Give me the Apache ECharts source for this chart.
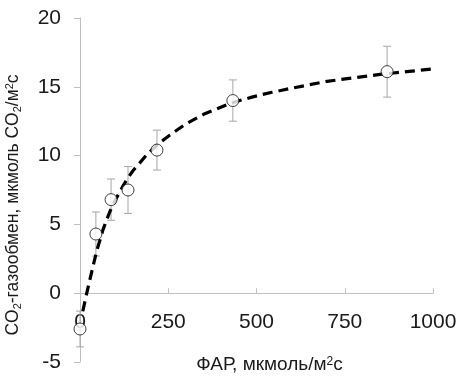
<!DOCTYPE html>
<html>
<head>
<meta charset="utf-8">
<script src="https://cdn.jsdelivr.net/npm/echarts@6/dist/echarts.min.js"></script>
<style>
  html, body { margin: 0; padding: 0; background: #fff; }
  #chart { width: 459px; height: 376px; }
</style>
</head>
<body>
<div id="chart"></div>
<script>
// Measured CO2 exchange vs. PAR (means ± error)
const par = [0, 45, 88, 136, 218, 433, 870];
const rate = [-2.6, 4.3, 6.8, 7.5, 10.4, 14.0, 16.1];
const err = [1.3, 1.6, 1.5, 1.7, 1.45, 1.5, 1.85];

// Light-response curve
const curvePar = [8, 14, 20, 25, 30, 35, 40, 45, 50, 57, 65, 75, 85, 93, 105, 122, 135, 150, 167, 187,
  203, 220, 237, 255, 277, 300, 325, 350, 383, 416, 450, 487, 515, 544, 572, 600, 650, 700, 775, 850, 925, 1000];
const curveRate = [-1.3, -0.6, 0.1, 0.65, 1.2, 1.75, 2.3, 2.8, 3.3, 3.9, 4.6, 5.3, 5.95, 6.4, 7.0, 7.8, 8.35, 8.9, 9.4, 10.0,
  10.4, 10.8, 11.15, 11.5, 11.9, 12.3, 12.65, 13.0, 13.35, 13.7, 13.98, 14.25, 14.43, 14.6, 14.75, 14.9, 15.15, 15.4, 15.65, 15.9, 16.1, 16.3];

const xTicks = { min: 0, max: 1000, step: 250 };
const yTicks = { min: -5, max: 20, step: 5 };

const FONT = '"Liberation Sans", Arial, sans-serif';
const AXIS_GRAY = '#bfbfbf';
const TEXT = '#1a1a1a';

const points = par.map((x, i) => [x, rate[i]]);
const bars = par.map((x, i) => [x, rate[i] - err[i], rate[i] + err[i]]);
const curve = curvePar.map((x, i) => [x, curveRate[i]]);

// Plot box geometry
const PLOT = { left: 80, right: 26, top: 18, bottom: 14, height: 376 - 18 - 14 };
// the visible PAR axis sits on the zero line of the rate axis
const zeroFromBottom = PLOT.bottom + PLOT.height * (0 - yTicks.min) / (yTicks.max - yTicks.min);

const chart = echarts.init(document.getElementById('chart'), null, { renderer: 'canvas' });

chart.setOption({
  animation: false,
  backgroundColor: '#ffffff',
  textStyle: { fontFamily: FONT },
  grid: [
    { left: PLOT.left, right: PLOT.right, top: PLOT.top, bottom: PLOT.bottom, containLabel: false, outerBoundsMode: 'none' },
    { left: PLOT.left, right: PLOT.right, top: PLOT.top, bottom: zeroFromBottom, containLabel: false, outerBoundsMode: 'none' }
  ],
  xAxis: [
    {
      gridIndex: 0,
      type: 'value',
      min: xTicks.min, max: xTicks.max, interval: xTicks.step,
      show: false
    },
    {
      gridIndex: 1,
      type: 'value',
      min: xTicks.min, max: xTicks.max, interval: xTicks.step,
      name: 'ФАР, мкмоль/м{sup|2}с',
      nameLocation: 'middle',
      nameGap: 62,
      nameTextStyle: {
        fontSize: 19, color: TEXT, fontFamily: FONT,
        padding: [0, 0, 0, 26],
        rich: { sup: { fontSize: 12, verticalAlign: 'top', padding: [0, 0, 8, 0], color: TEXT, fontFamily: FONT } }
      },
      axisLine: { show: true, onZero: false, lineStyle: { color: AXIS_GRAY, width: 1 } },
      axisTick: { show: true, inside: true, length: 5, lineStyle: { color: AXIS_GRAY } },
      axisLabel: { fontSize: 21, color: TEXT, fontFamily: FONT, margin: 19, formatter: v => String(v) },
      splitLine: { show: false }
    }
  ],
  yAxis: [
    {
      gridIndex: 0,
      type: 'value',
      min: yTicks.min, max: yTicks.max, interval: yTicks.step,
      name: 'CO{sub|2}-газообмен, мкмоль CO{sub|2}/м{sup|2}с',
      nameLocation: 'middle',
      nameGap: 57,
      nameRotate: 90,
      nameTextStyle: {
        fontSize: 17.5, color: TEXT, fontFamily: FONT,
        padding: [0, 30, 0, 0],
        rich: {
          sub: { fontSize: 11, verticalAlign: 'bottom', padding: [8, 0, 0, 0], color: TEXT, fontFamily: FONT },
          sup: { fontSize: 11, verticalAlign: 'top', padding: [0, 0, 8, 0], color: TEXT, fontFamily: FONT }
        }
      },
      axisLine: { show: true, onZero: false, lineStyle: { color: AXIS_GRAY, width: 1 } },
      axisTick: { show: true, inside: false, length: 6, lineStyle: { color: AXIS_GRAY } },
      axisLabel: { fontSize: 21, color: TEXT, fontFamily: FONT, margin: 19, formatter: v => String(v) },
      splitLine: { show: false }
    },
    {
      gridIndex: 1,
      type: 'value',
      min: 0, max: yTicks.max,
      show: false
    }
  ],
  series: [
    {
      type: 'custom',
      name: 'error',
      xAxisIndex: 0, yAxisIndex: 0,
      z: 1,
      data: bars,
      encode: { x: 0, y: [1, 2] },
      renderItem: function (params, api) {
        const x = api.value(0);
        const lo = api.coord([x, api.value(1)]);
        const hi = api.coord([x, api.value(2)]);
        const cap = 4;
        const style = { stroke: '#a6a6a6', lineWidth: 1, fill: null };
        return {
          type: 'group',
          children: [
            { type: 'line', shape: { x1: lo[0], y1: lo[1], x2: hi[0], y2: hi[1] }, style: style },
            { type: 'line', shape: { x1: lo[0] - cap, y1: lo[1], x2: lo[0] + cap, y2: lo[1] }, style: style },
            { type: 'line', shape: { x1: hi[0] - cap, y1: hi[1], x2: hi[0] + cap, y2: hi[1] }, style: style }
          ]
        };
      }
    },
    {
      type: 'line',
      name: 'fit',
      xAxisIndex: 0, yAxisIndex: 0,
      z: 2,
      data: curve,
      smooth: false,
      showSymbol: false,
      symbol: 'none',
      lineStyle: { color: '#000', width: 3.2, type: [10, 6], join: 'round' }
    },
    {
      type: 'scatter',
      name: 'measured',
      xAxisIndex: 0, yAxisIndex: 0,
      z: 3,
      data: points,
      symbol: 'circle',
      symbolSize: 12,
      itemStyle: { color: '#ffffff', borderColor: '#111111', borderWidth: 1 }
    }
  ]
});
</script>
</body>
</html>
